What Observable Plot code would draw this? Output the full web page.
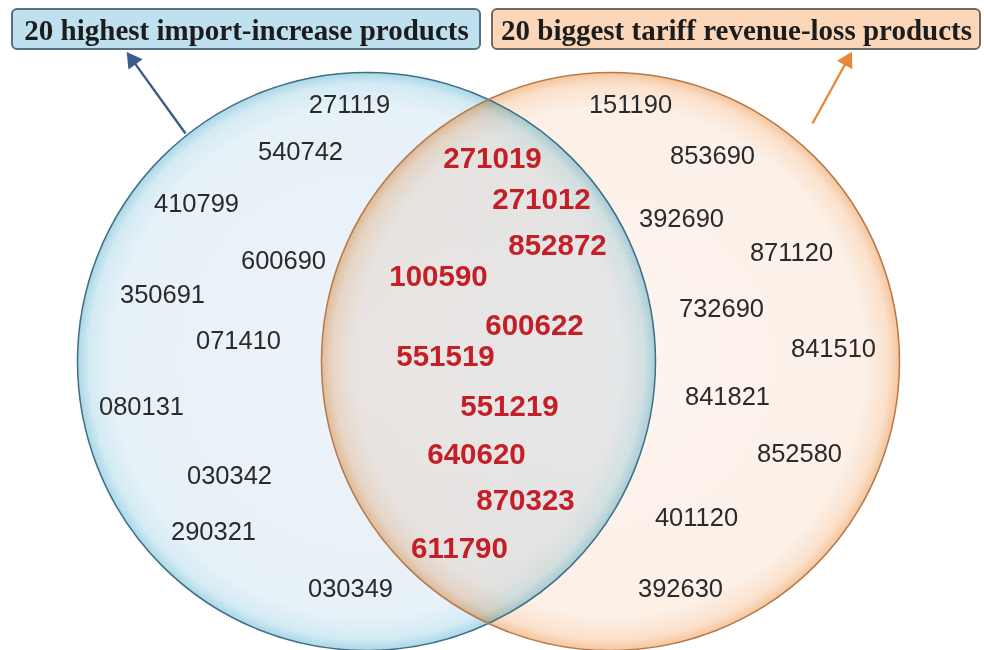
<!DOCTYPE html>
<html>
<head>
<meta charset="utf-8">
<script src="https://cdn.jsdelivr.net/npm/d3@7"></script>
<script src="https://cdn.jsdelivr.net/npm/@observablehq/plot@0.6"></script>
<style>
  html, body { margin: 0; padding: 0; background: #ffffff; }
  #chart svg { display: block; }
</style>
</head>
<body>
<div id="chart"></div>
<script>
// ---- data ----
const setTitles = ["20 highest import-increase products", "20 biggest tariff revenue-loss products"];
const leftOnly  = ["271119","540742","410799","600690","350691","071410","080131","030342","290321","030349"];
const both      = ["271019","271012","852872","100590","600622","551519","551219","640620","870323","611790"];
const rightOnly = ["151190","853690","392690","871120","732690","841510","841821","852580","401120","392630"];

// ---- layout (pixel coordinates in the 984x650 frame) ----
const circleCX = [366, 610];
const circleCY = [361, 361];
const circleR = 289;
const leftOnlyX  = [349,300,196,283,162,238,141,229,213,350];
const leftOnlyY  = [104,151,203,260,294,340,406,475,531,588];
const bothX      = [492,541,557,438,534,445,509,476,525,459];
const bothY      = [158,199,245,276,325,356,406,454,500,548];
const rightOnlyX = [630,712,681,791,721,833,727,799,696,680];
const rightOnlyY = [104,155,218,252,308,348,396,453,517,588];
const boxX1 = [12, 492], boxX2 = [480, 980], boxY1 = [9, 9], boxY2 = [49, 49];
const arrowX1 = [185, 812], arrowY1 = [133, 123], arrowX2 = [128, 850], arrowY2 = [54, 54];
const arrowColors = ["#3d5a8c", "#e58a3a"];

const mk = (labels, xs, ys) => labels.map((t, i) => ({t, x: xs[i], y: ys[i]}));
const leftData = mk(leftOnly, leftOnlyX, leftOnlyY);
const bothData = mk(both, bothX, bothY);
const rightData = mk(rightOnly, rightOnlyX, rightOnlyY);
const sets = setTitles.map((title, i) => {
  const dx = arrowX2[i] - arrowX1[i], dy = arrowY2[i] - arrowY1[i];
  const len = Math.hypot(dx, dy), ux = dx / len, uy = dy / len;
  return {
    title, cx: circleCX[i], cy: circleCY[i],
    x1: boxX1[i], x2: boxX2[i], y1: boxY1[i], y2: boxY2[i],
    ax1: arrowX1[i], ay1: arrowY1[i],
    // shaft ends where the head starts
    sx2: arrowX2[i] - ux * 10, sy2: arrowY2[i] - uy * 10,
    // head centre a little behind the tip
    hx: arrowX2[i] - ux * 7, hy: arrowY2[i] - uy * 7,
    rot: Math.atan2(dx, -dy) * 180 / Math.PI,
    color: arrowColors[i]
  };
});

const svg = Plot.plot({
  width: 984, height: 650,
  margin: 0,
  x: {domain: [0, 984], axis: null},
  y: {domain: [0, 650], reverse: true, axis: null},
  style: {background: "#ffffff"},
  marks: [
    // circle fills
    Plot.dot([sets[0]], {x: "cx", y: "cy", r: circleR, fill: "url(#gradL)", stroke: "none"}),
    Plot.dot([sets[1]], {x: "cx", y: "cy", r: circleR, fill: "url(#gradR)", stroke: "none", mixBlendMode: "multiply"}),
    // circle outlines
    Plot.dot([sets[0]], {x: "cx", y: "cy", r: circleR, fill: "none", stroke: "#3f6f88", strokeWidth: 1.5}),
    Plot.dot([sets[1]], {x: "cx", y: "cy", r: circleR, fill: "none", stroke: "#b47a4c", strokeWidth: 1.5}),
    // arrows: shaft + filled head
    Plot.link(sets, {x1: "ax1", y1: "ay1", x2: "sx2", y2: "sy2", stroke: "color", strokeWidth: 2.4}),
    Plot.dot(sets, {x: "hx", y: "hy", symbol: "triangle", r: 6.5, rotate: "rot", fill: "color", stroke: "none"}),
    // title boxes
    Plot.rect([sets[0]], {x1: "x1", x2: "x2", y1: "y1", y2: "y2", fill: "#bfe0ee", stroke: "#5b6f7c", strokeWidth: 2, rx: 5}),
    Plot.rect([sets[1]], {x1: "x1", x2: "x2", y1: "y1", y2: "y2", fill: "#fbd6b8", stroke: "#6f6a66", strokeWidth: 2, rx: 5}),
    Plot.text(sets, {x: d => (d.x1 + d.x2) / 2, y: d => (d.y1 + d.y2) / 2 + 1, text: "title",
      fontFamily: "Liberation Serif, Times New Roman, serif", fontWeight: "bold", fontSize: 29, fill: "#1c1c1c"}),
    // labels
    Plot.text(leftData, {x: "x", y: "y", text: "t", fontFamily: "Liberation Sans, Arial, sans-serif", fontSize: 25.5, fill: "#2a2a2a"}),
    Plot.text(rightData, {x: "x", y: "y", text: "t", fontFamily: "Liberation Sans, Arial, sans-serif", fontSize: 25.5, fill: "#2a2a2a"}),
    Plot.text(bothData, {x: "x", y: "y", text: "t", fontFamily: "Liberation Sans, Arial, sans-serif", fontWeight: "bold", fontSize: 29.5, fill: "#c41e26"})
  ]
});

// gradient definitions for the circle fills
const defs = d3.select(svg).insert("defs", ":first-child");
const gL = defs.append("radialGradient").attr("id", "gradL").attr("cx", "50%").attr("cy", "50%").attr("r", "50%");
gL.append("stop").attr("offset", "0%").attr("stop-color", "#edf3f9");
gL.append("stop").attr("offset", "88%").attr("stop-color", "#e7f1f8");
gL.append("stop").attr("offset", "96%").attr("stop-color", "#d4ebf4");
gL.append("stop").attr("offset", "100%").attr("stop-color", "#aad8e7");
const gR = defs.append("radialGradient").attr("id", "gradR").attr("cx", "50%").attr("cy", "50%").attr("r", "50%");
gR.append("stop").attr("offset", "0%").attr("stop-color", "#fdf5f0");
gR.append("stop").attr("offset", "88%").attr("stop-color", "#fcf0e7");
gR.append("stop").attr("offset", "96%").attr("stop-color", "#fbe1cc");
gR.append("stop").attr("offset", "100%").attr("stop-color", "#f6c59c");

document.getElementById("chart").appendChild(svg);
</script>
</body>
</html>
